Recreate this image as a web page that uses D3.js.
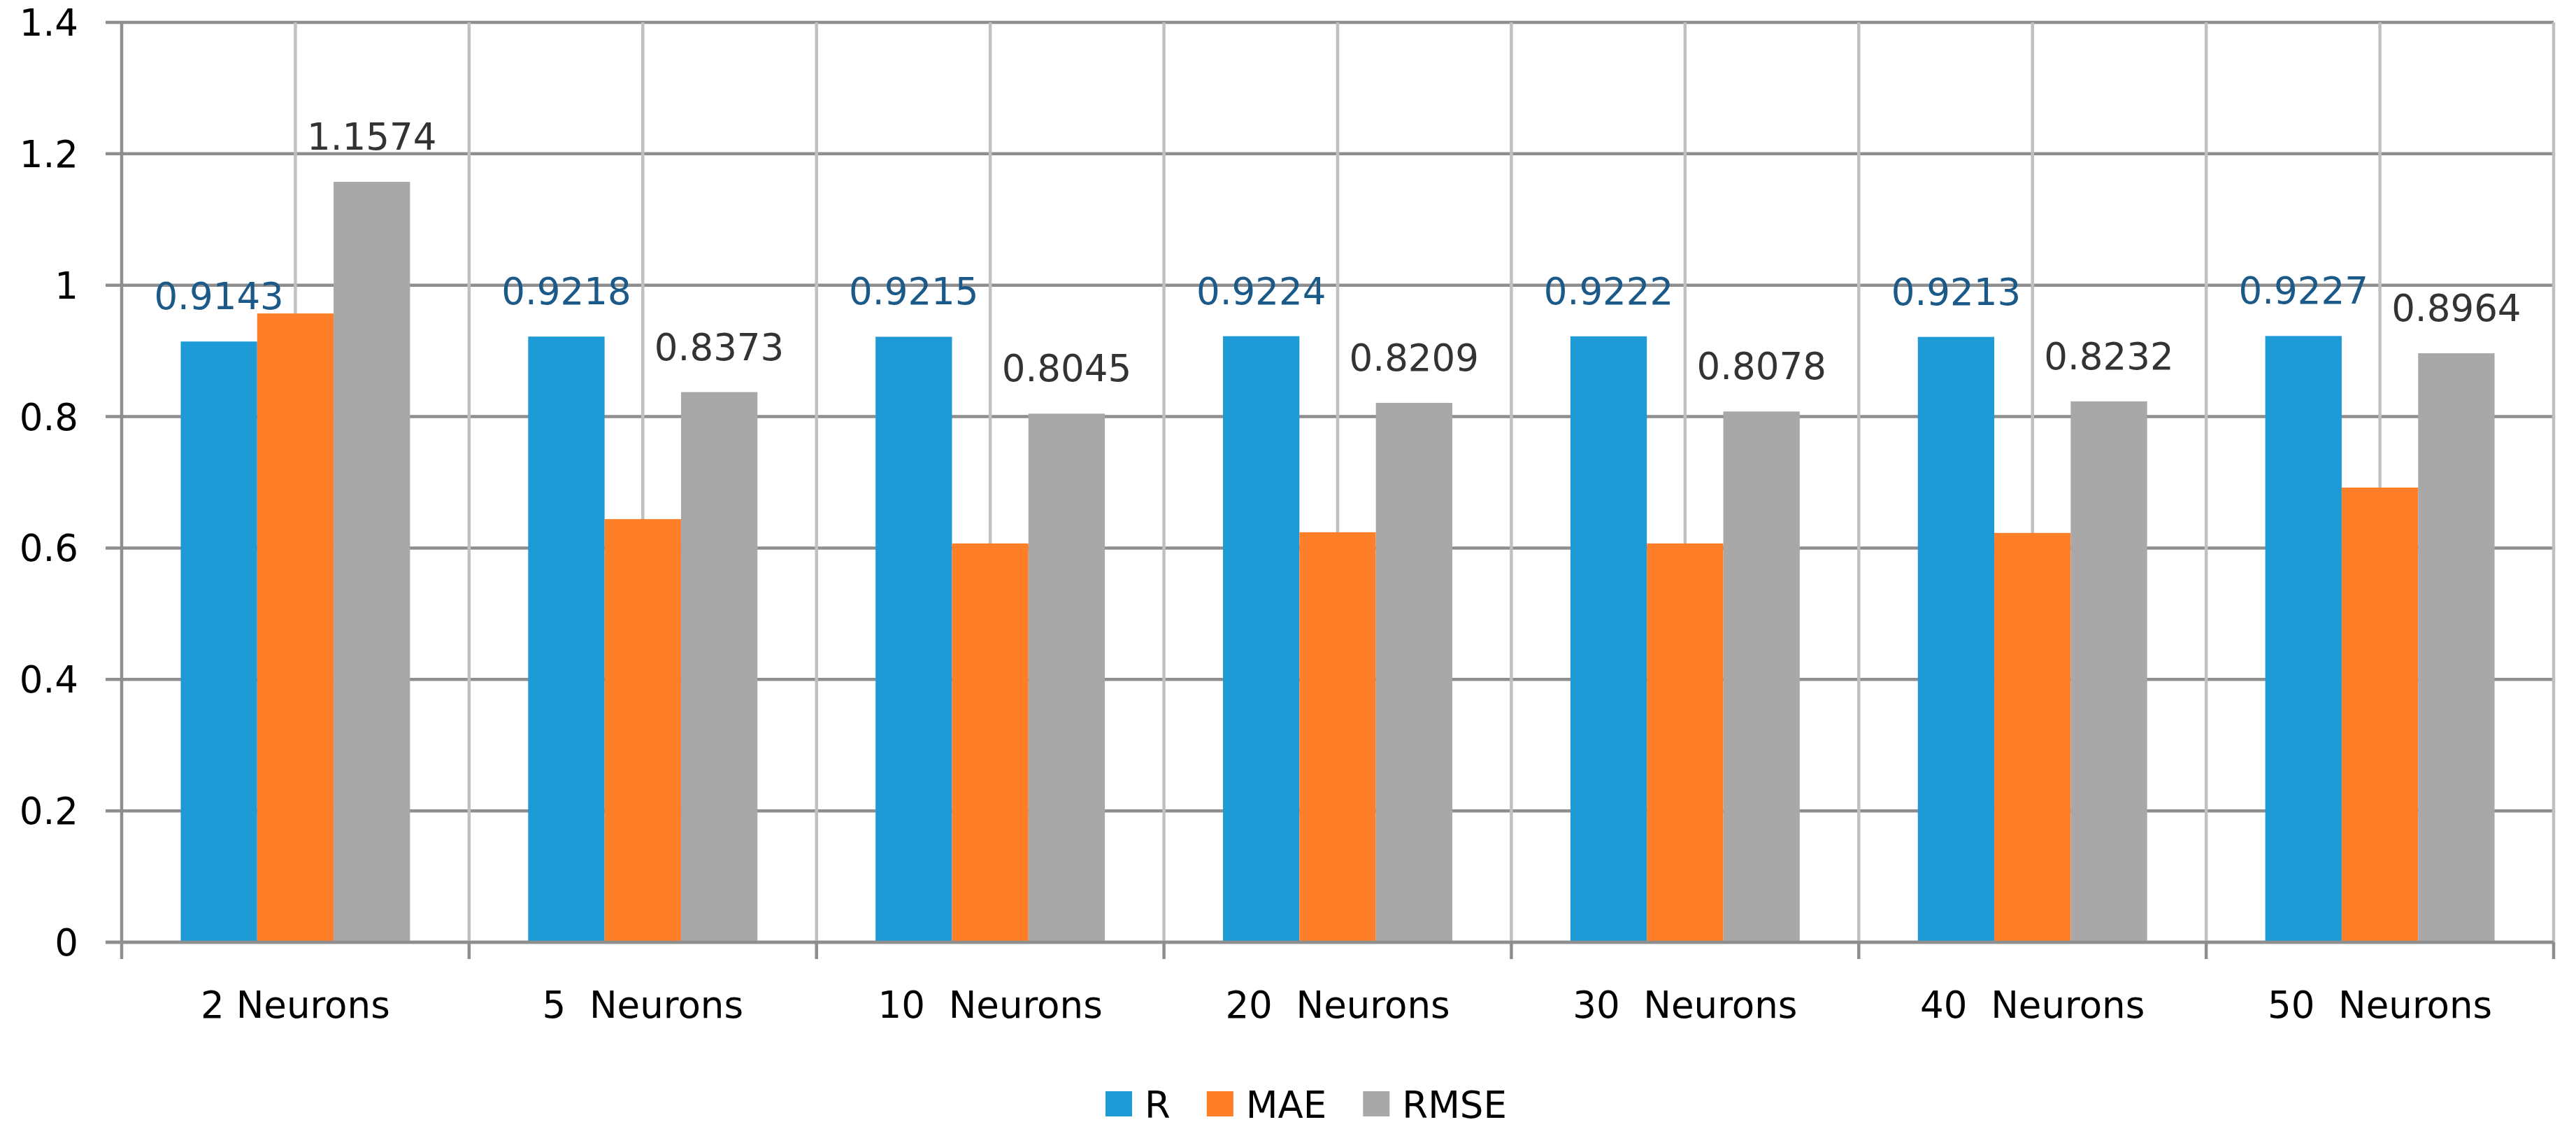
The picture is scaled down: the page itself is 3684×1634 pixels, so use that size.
<!DOCTYPE html>
<html>
<head>
<meta charset="utf-8">
<script src="https://cdn.jsdelivr.net/npm/d3@7"></script>
<style>
  body { margin: 0; background: #ffffff; }
  text { font-family: "DejaVu Sans", sans-serif; }
</style>
</head>
<body>
<div id="chart"></div>
<script>
// Chart data
var categories = ["2 Neurons", "5  Neurons", "10  Neurons", "20  Neurons", "30  Neurons", "40  Neurons", "50  Neurons"];
var seriesNames = ["R", "MAE", "RMSE"];
var valuesR = [0.9143, 0.9218, 0.9215, 0.9224, 0.9222, 0.9213, 0.9227];
var valuesMAE = [0.957, 0.644, 0.607, 0.624, 0.607, 0.623, 0.692];
var valuesRMSE = [1.1574, 0.8373, 0.8045, 0.8209, 0.8078, 0.8232, 0.8964];
var yTicks = [0, 0.2, 0.4, 0.6, 0.8, 1, 1.2, 1.4];

var colors = ["#1e9bd7", "#fe7f27", "#a8a8a8"];
var labelColors = ["#1b5a88", null, "#333333"];
var seriesValues = [valuesR, valuesMAE, valuesRMSE];

var W = 3684, H = 1634;
var margin = {left: 174, right: 32, top: 32, bottom: 287};
var width = W - margin.left - margin.right;
var height = H - margin.top - margin.bottom;
var font = "DejaVu Sans";
var fontSize = "53px";
var darkGrid = "#8e8e8e", lightGrid = "#c0c0c0";

d3.select("#chart").selectAll("*").remove();
var svg = d3.select("#chart")
    .append("svg")
        .attr("width", W)
        .attr("height", H)
    .append("g")
        .attr("transform", "translate(" + margin.left + "," + margin.top + ")");

var x = d3.scaleBand()
    .domain(categories)
    .range([0, width])
    .padding(0);

var y = d3.scaleLinear()
    .domain([0, 1.4])
    .range([height, 0]);

// bars take 0.66 of a category (gap width 150%)
var inner = d3.scaleBand()
    .domain(seriesNames)
    .range([0, x.bandwidth() * 0.66]);
var groupOffset = x.bandwidth() * 0.17;

// Horizontal gridlines + left ticks
svg.append("g")
    .selectAll("line")
    .data(yTicks)
    .enter()
    .append("line")
    .attr("x1", -23)
    .attr("x2", width)
    .attr("y1", d => y(d))
    .attr("y2", d => y(d))
    .attr("stroke", darkGrid)
    .attr("stroke-width", 4.5);

// Vertical gridlines at category boundaries and centers
var vLines = [];
categories.forEach(function(c, i) {
    vLines.push(x(c) + x.bandwidth() / 2);
    vLines.push(x(c) + x.bandwidth());
});
svg.append("g")
    .selectAll("line")
    .data(vLines)
    .enter()
    .append("line")
    .attr("x1", d => d)
    .attr("x2", d => d)
    .attr("y1", y(1.4))
    .attr("y2", y(0))
    .attr("stroke", lightGrid)
    .attr("stroke-width", 4.5);

// Ticks below x axis at category boundaries
var boundaries = [0].concat(categories.map(c => x(c) + x.bandwidth()));
svg.append("g")
    .selectAll("line")
    .data(boundaries)
    .enter()
    .append("line")
    .attr("x1", d => d)
    .attr("x2", d => d)
    .attr("y1", y(0))
    .attr("y2", y(0) + 24)
    .attr("stroke", darkGrid)
    .attr("stroke-width", 4.5);

// Left axis line
svg.append("line")
    .attr("x1", 0).attr("x2", 0)
    .attr("y1", y(1.4) - 2).attr("y2", y(0))
    .attr("stroke", darkGrid)
    .attr("stroke-width", 4.5);

// Bars
seriesNames.forEach(function(s, si) {
    svg.append("g")
        .selectAll("rect")
        .data(categories)
        .enter()
        .append("rect")
        .attr("x", c => x(c) + groupOffset + inner(s))
        .attr("y", (c, i) => y(seriesValues[si][i]))
        .attr("width", inner.bandwidth())
        .attr("height", (c, i) => y(0) - y(seriesValues[si][i]))
        .style("fill", colors[si]);
});

// X axis line on top of bars
svg.append("line")
    .attr("x1", -23).attr("x2", width)
    .attr("y1", y(0)).attr("y2", y(0))
    .attr("stroke", darkGrid)
    .attr("stroke-width", 4.5);

// Data labels (R and RMSE only)
[0, 2].forEach(function(si) {
    var s = seriesNames[si];
    svg.append("g")
        .selectAll("text")
        .data(categories)
        .enter()
        .append("text")
        .attr("font-family", font)
        .style("font-size", fontSize)
        .attr("text-anchor", "middle")
        .attr("fill", labelColors[si])
        .attr("x", c => x(c) + groupOffset + inner(s) + inner.bandwidth() / 2)
        .attr("y", (c, i) => y(seriesValues[si][i]) - 46)
        .text((c, i) => seriesValues[si][i].toFixed(4));
});

// Y tick labels
svg.append("g")
    .selectAll("text")
    .data(yTicks)
    .enter()
    .append("text")
    .attr("font-family", font)
    .style("font-size", fontSize)
    .attr("text-anchor", "end")
    .attr("fill", "#000")
    .attr("x", -62)
    .attr("y", d => y(d) + 19)
    .text(d => d3.format("")(d));

// Category labels
svg.append("g")
    .selectAll("text")
    .data(categories)
    .enter()
    .append("text")
    .attr("font-family", font)
    .style("font-size", fontSize)
    .style("white-space", "pre")
    .attr("xml:space", "preserve")
    .attr("text-anchor", "middle")
    .attr("fill", "#000")
    .attr("x", c => x(c) + x.bandwidth() / 2)
    .attr("y", height + 108)
    .text(c => c);

// Legend, centered under the plot
var legend = svg.append("g");
var lx = 0;
var legendY = 1578 - margin.top;
seriesNames.forEach(function(s, si) {
    legend.append("rect")
        .attr("x", lx)
        .attr("y", legendY - 18)
        .attr("width", 38)
        .attr("height", 36)
        .style("fill", colors[si]);
    var t = legend.append("text")
        .attr("font-family", font)
        .style("font-size", fontSize)
        .attr("fill", "#000")
        .attr("x", lx + 56)
        .attr("y", legendY + 20)
        .text(s);
    lx += 56 + t.node().getComputedTextLength() + 52;
});
var legendWidth = lx - 52;
legend.attr("transform", "translate(" + (1868 - margin.left - legendWidth / 2) + ",0)");
</script>
</body>
</html>
